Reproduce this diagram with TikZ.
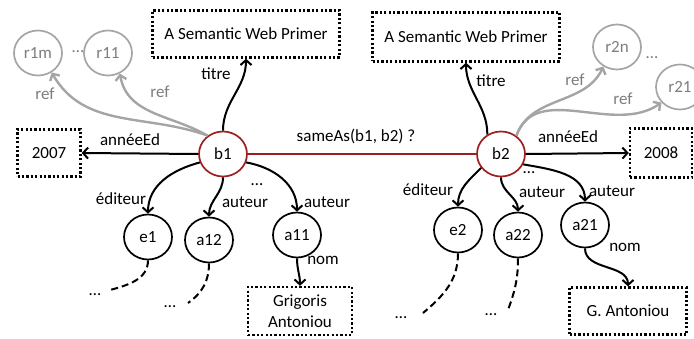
\documentclass[tikz,border=0pt]{standalone}
\usepackage{fontspec}
\setmainfont{Carlito}
\usetikzlibrary{arrows.meta,shapes.geometric}

\definecolor{rouge}{RGB}{158,32,30}
\definecolor{gris}{RGB}{165,165,165}
\definecolor{grisfonce}{RGB}{125,125,125}

\begin{document}
\begin{tikzpicture}[x=1pt,y=1pt,
	font=\fontsize{17}{21}\selectfont,
	res/.style={ellipse, draw, line width=1.7pt, minimum width=48pt, minimum height=45pt, inner sep=0pt},
	livre/.style={res, draw=rouge},
	refres/.style={res, draw=gris, text=grisfonce},
	lit/.style={draw, line width=2.4pt, dash pattern=on 2.2pt off 2.2pt, inner sep=2pt},
	fl/.style={-{Straight Barb[length=5pt,width=11pt]}, line width=2pt},
	reffl/.style={fl, draw=gris, line width=2.4pt},
	suite/.style={line width=2pt, dash pattern=on 7pt off 4pt},
	lbl/.style={inner sep=0pt},
	reflbl/.style={lbl, text=grisfonce}]

	\useasboundingbox (0,0) rectangle (694,338);

	% les deux livres
	\node[livre] (b1) at (223,184) {b1};
	\node[livre] (b2) at (501,184) {b2};

	% litteraux
	\node[lit, minimum width=187pt, minimum height=47pt] (t1) at (246,304) {A Semantic Web Primer};
	\node[lit, minimum width=187pt, minimum height=49pt] (t2) at (466,301) {A Semantic Web Primer};
	\node[lit, minimum width=63pt, minimum height=47pt] (an1) at (49,185) {2007};
	\node[lit, minimum width=62pt, minimum height=49pt] (an2) at (661,185) {2008};
	\node[lit, minimum width=104pt, minimum height=48pt, align=center] (nom1) at (300,27) {Grigoris\\Antoniou};
	\node[lit, minimum width=117pt, minimum height=47pt] (nom2) at (628,27) {G. Antoniou};

	% references
	\node[refres] (r1m) at (38,285) {r1m};
	\node[refres] (r11) at (108,285) {r11};
	\node[refres] (r2n) at (617,291) {r2n};
	\node[refres] (r21) at (680,251) {r21};
	\node[reflbl] (p1) at (78,286) {…};
	\node[reflbl] (p2) at (652,280) {…};

	% editeurs et auteurs
	\node[res] (e1) at (148,101) {e1};
	\node[res] (a12) at (209,98) {a12};
	\node[res] (a11) at (297,103) {a11};
	\node[res] (e2) at (458,108) {e2};
	\node[res] (a22) at (518,103) {a22};
	\node[res] (a21) at (585,113) {a21};

	\coordinate (fin1) at (110,48);
	\coordinate (fin2) at (188,35);
	\coordinate (fin3) at (423,25);
	\coordinate (fin4) at (508,28);
	\node[lbl] (p3) at (95,43) {…};
	\node[lbl] (p4) at (170,31) {…};
	\node[lbl] (p5) at (401,20) {…};
	\node[lbl] (p6) at (491,23) {…};
	\node[lbl] (p7) at (257,153) {…};
	\node[lbl] (p8) at (529,165) {…};

	% b1
	\draw[fl] (b1.west) -- (an1.east);
	\draw[fl] (b1.north) to[out=90,in=-90] (t1.south);
	\draw[reffl] (b1.130) to[out=160,in=-60] (r1m.-55);
	\draw[reffl] (b1.130) to[out=150,in=-80] (r11.-60);
	\draw[fl] (b1.200) to[out=195,in=90] (e1.north);
	\draw[fl] (b1.south) to[out=-90,in=90] (a12.north);
	\draw[fl] (b1.-20) to[out=-10,in=90] (a11.north);
	\draw[fl] (a11.south) to[out=-90,in=90] (nom1.north);
	\draw[suite] (e1.south) to[out=-90,in=15] (fin1);
	\draw[suite] (a12.south) to[out=-90,in=35] (fin2);

	\node[lbl] (l1) at (130,198) {annéeEd};
	\node[lbl] (l2) at (216,264) {titre};
	\node[reflbl] (l3) at (45,244) {ref};
	\node[reflbl] (l4) at (160,246) {ref};
	\node[lbl] (l5) at (121,139) {éditeur};
	\node[lbl] (l6) at (245,136) {auteur};
	\node[lbl] (l7) at (327,136) {auteur};
	\node[lbl] (l8) at (323,78) {nom};

	% sameAs
	\draw[rouge, line width=2pt] (b1.east) -- (b2.west);
	\node[lbl] (l9) at (356,202) {sameAs(b1, b2) ?};

	% b2
	\draw[fl] (b2.east) -- (an2.west);
	\draw[fl] (b2.125) to[out=90,in=-90] (t2.south);
	\draw[reffl] (b2.50) to[out=70,in=-115] (r2n.-125);
	\draw[reffl] (b2.50) to[out=70,in=-145] (r21.-140);
	\draw[fl] (b2.215) to[out=225,in=90] (e2.north);
	\draw[fl] (b2.south) to[out=-90,in=90] (a22.north);
	\draw[fl] (b2.-25) to[out=-10,in=90] (a21.north);
	\draw[fl] (a21.south) to[out=-90,in=90] (nom2.north);
	\draw[suite] (e2.south) to[out=-90,in=40] (fin3);
	\draw[suite] (a22.south) to[out=-90,in=70] (fin4);

	\node[lbl] (l10) at (568,201) {annéeEd};
	\node[lbl] (l11) at (491,257) {titre};
	\node[reflbl] (l12) at (575,258) {ref};
	\node[reflbl] (l13) at (623,239) {ref};
	\node[lbl] (l14) at (428,148) {éditeur};
	\node[lbl] (l15) at (542,146) {auteur};
	\node[lbl] (l16) at (612,147) {auteur};
	\node[lbl] (l17) at (625,91) {nom};

\end{tikzpicture}
\end{document}
